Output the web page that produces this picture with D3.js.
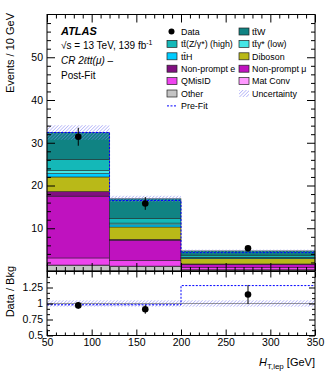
<!DOCTYPE html>
<html>
<head>
<meta charset="utf-8">
<script src="https://cdnjs.cloudflare.com/ajax/libs/d3/7.8.5/d3.min.js"></script>
<style>
body { margin: 0; background: #fff; }
svg { font-family: "Liberation Sans", Arial, sans-serif; }
.axis text { font-size: 10.5px; fill: #000; }
.axis path { display: none; }
.axis line { stroke: #000; stroke-width: 1; }
.leg text { font-size: 8.9px; }
</style>
</head>
<body>
<svg id="chart" width="332" height="375"></svg>
<script>
// bin edges of H_T,lep
var edges = [50, 120, 200, 350];

// post-fit yields per bin, bottom of the stack first
var other     = [1.3, 1.1, 0.25];
var matConv   = [0.1, 0.05, 0.05];
var qMisID    = [1.65, 1.35, 0.5];
var npMu      = [14.45, 4.7, 0.7];
var npE       = [1.1, 0.2, 0.15];
var diboson   = [3.4, 2.9, 1.25];
var ttH       = [0.8, 0.5, 0.15];
var ttGamLow  = [0.7, 0.4, 0.1];
var ttZHigh   = [2.6, 1.1, 0.55];
var ttW       = [6.3, 4.6, 1.0];

var bkgUnc    = [1.7, 0.7, 0.3];
var preFit    = [32.4, 16.5, 4.3];

var dataVal   = [31.4, 15.8, 5.3];
var dataErr   = [2.1, 1.5, 0.4];

var ratioVal  = [0.97, 0.91, 1.14];
var ratioErr  = [0.05, 0.07, 0.15];
var ratioUnc  = [0.05, 0.05, 0.05];
var ratioPre  = [0.98, 0.98, 1.28];

var keys = ["Other", "Mat Conv", "QMisID", "Non-prompt \u03bc", "Non-prompt e", "Diboson",
            "tt\u0304H", "tt\u0304\u03b3* (low)", "tt\u0304(Z/\u03b3*) (high)", "tt\u0304W"];
var series = [other, matConv, qMisID, npMu, npE, diboson, ttH, ttGamLow, ttZHigh, ttW];

var colors = {
    "Other": "#c4c4c4",
    "Mat Conv": "#ff99ff",
    "QMisID": "#ee44ee",
    "Non-prompt \u03bc": "#bf12bf",
    "Non-prompt e": "#801080",
    "Diboson": "#b9b918",
    "tt\u0304H": "#00ccff",
    "tt\u0304\u03b3* (low)": "#44e6e6",
    "tt\u0304(Z/\u03b3*) (high)": "#14b8b8",
    "tt\u0304W": "#108383"
};

var rows = edges.slice(0, -1).map(function(e, i) {
    var r = {bin: i};
    keys.forEach(function(k, j) { r[k] = series[j][i]; });
    return r;
});
var stacked = d3.stack().keys(keys)(rows);
var totals = rows.map(function(r) { return d3.sum(keys, k => r[k]); });

var svg = d3.select("#chart");
var defs = svg.append("defs");
defs.append("pattern")
    .attr("id", "hatch")
    .attr("width", 2.4).attr("height", 2.4)
    .attr("patternUnits", "userSpaceOnUse")
    .attr("patternTransform", "rotate(45)")
  .append("line")
    .attr("x1", 0).attr("y1", 0).attr("x2", 0).attr("y2", 2.4)
    .attr("stroke", "#8080f2").attr("stroke-width", 0.9);

var x = d3.scaleLinear().domain([50, 350]).range([47, 315]);
var y = d3.scaleLinear().domain([0, 60]).range([271, 14.5]);
var yr = d3.scaleLinear().domain([0.5, 1.5]).range([335.5, 271.5]);

// stacked histogram
var g = svg.append("g");
g.selectAll(".layer")
    .data(stacked)
    .enter().append("g")
    .attr("class", "layer")
    .attr("fill", d => colors[d.key])
    .selectAll("rect")
    .data(d => d)
    .enter().append("rect")
    .attr("x", (d, i) => x(edges[i]))
    .attr("width", (d, i) => x(edges[i + 1]) - x(edges[i]))
    .attr("y", d => y(d[1]))
    .attr("height", d => y(d[0]) - y(d[1]))
    .attr("stroke", "#111")
    .attr("stroke-opacity", 0.75)
    .attr("stroke-width", 0.6);

// uncertainty band
g.selectAll(".unc")
    .data(totals)
    .enter().append("rect")
    .attr("class", "unc")
    .attr("x", (d, i) => x(edges[i]))
    .attr("width", (d, i) => x(edges[i + 1]) - x(edges[i]))
    .attr("y", (d, i) => y(d + bkgUnc[i]))
    .attr("height", (d, i) => y(d - bkgUnc[i]) - y(d + bkgUnc[i]))
    .attr("fill", "url(#hatch)");

function stepPoints(vals) {
    var pts = vals.map((v, i) => [edges[i], v]);
    pts.push([edges[edges.length - 1], vals[vals.length - 1]]);
    return pts;
}

g.append("path")
    .datum(stepPoints(preFit))
    .attr("fill", "none")
    .attr("stroke", "#0000ff")
    .attr("stroke-width", 1)
    .attr("stroke-dasharray", "2,1.5")
    .attr("d", d3.line().curve(d3.curveStepAfter).x(d => x(d[0])).y(d => y(d[1])));

var mids = edges.slice(0, -1).map((e, i) => (e + edges[i + 1]) / 2);

g.selectAll(".derr")
    .data(dataVal)
    .enter().append("line")
    .attr("x1", (d, i) => x(mids[i])).attr("x2", (d, i) => x(mids[i]))
    .attr("y1", (d, i) => y(d - dataErr[i])).attr("y2", (d, i) => y(d + dataErr[i]))
    .attr("stroke", "#000").attr("stroke-width", 1);
g.selectAll(".dot")
    .data(dataVal)
    .enter().append("circle")
    .attr("cx", (d, i) => x(mids[i]))
    .attr("cy", d => y(d))
    .attr("r", 3.3)
    .attr("fill", "#000");

// ratio panel
var rg = svg.append("g");
rg.selectAll(".runc")
    .data(ratioUnc)
    .enter().append("rect")
    .attr("x", (d, i) => x(edges[i]))
    .attr("width", (d, i) => x(edges[i + 1]) - x(edges[i]))
    .attr("y", d => yr(1 + d))
    .attr("height", d => yr(1 - d) - yr(1 + d))
    .attr("fill", "url(#hatch)");
rg.append("line")
    .attr("x1", x(50)).attr("x2", x(350))
    .attr("y1", yr(1)).attr("y2", yr(1))
    .attr("stroke", "#555").attr("stroke-width", 0.6);
rg.append("path")
    .datum(stepPoints(ratioPre))
    .attr("fill", "none")
    .attr("stroke", "#0000ff")
    .attr("stroke-width", 1)
    .attr("stroke-dasharray", "2,1.5")
    .attr("d", d3.line().curve(d3.curveStepAfter).x(d => x(d[0])).y(d => yr(d[1])));
rg.selectAll(".rerr")
    .data(ratioVal)
    .enter().append("line")
    .attr("x1", (d, i) => x(mids[i])).attr("x2", (d, i) => x(mids[i]))
    .attr("y1", (d, i) => yr(d - ratioErr[i])).attr("y2", (d, i) => yr(d + ratioErr[i]))
    .attr("stroke", "#000").attr("stroke-width", 1);
rg.selectAll(".rdot")
    .data(ratioVal)
    .enter().append("circle")
    .attr("cx", (d, i) => x(mids[i]))
    .attr("cy", d => yr(d))
    .attr("r", 3.3)
    .attr("fill", "#000");

// axes, ticks pointing inwards on every side
var xMajor = d3.range(50, 351, 50);
var xMinor = d3.range(50, 351, 10).filter(v => v % 50);
var yMajor = [10, 20, 30, 40, 50];
var yMinor = d3.range(0, 61, 2).filter(v => v % 10);
var rMajor = [0.5, 0.75, 1, 1.25];
var rMinor = d3.range(0, 13).map(k => 0.5 + k / 12).filter((v, k) => k % 3);

function addAxis(axis, tx, ty) {
    svg.append("g").attr("class", "axis")
        .attr("transform", "translate(" + tx + "," + ty + ")")
        .call(axis);
}
var fmtR = d => (d === 1 ? "1" : d3.format("")(d));

// main panel
addAxis(d3.axisBottom(x).tickValues(xMajor).tickSize(-8).tickFormat(""), 0, y(0));
addAxis(d3.axisBottom(x).tickValues(xMinor).tickSize(-4).tickFormat(""), 0, y(0));
addAxis(d3.axisTop(x).tickValues(xMajor).tickSize(-8).tickFormat(""), 0, y(60));
addAxis(d3.axisTop(x).tickValues(xMinor).tickSize(-4).tickFormat(""), 0, y(60));
addAxis(d3.axisLeft(y).tickValues(yMajor).tickSize(-8).tickPadding(4), x(50), 0);
addAxis(d3.axisLeft(y).tickValues(yMinor).tickSize(-4).tickFormat(""), x(50), 0);
addAxis(d3.axisRight(y).tickValues(yMajor).tickSize(-8).tickFormat(""), x(350), 0);
addAxis(d3.axisRight(y).tickValues(yMinor).tickSize(-4).tickFormat(""), x(350), 0);

// ratio panel
addAxis(d3.axisBottom(x).tickValues(xMajor).tickSize(-6).tickPadding(3), 0, yr(0.5));
addAxis(d3.axisBottom(x).tickValues(xMinor).tickSize(-3).tickFormat(""), 0, yr(0.5));
addAxis(d3.axisTop(x).tickValues(xMajor).tickSize(-6).tickFormat(""), 0, yr(1.5));
addAxis(d3.axisTop(x).tickValues(xMinor).tickSize(-3).tickFormat(""), 0, yr(1.5));
addAxis(d3.axisLeft(yr).tickValues(rMajor).tickSize(-6).tickPadding(4).tickFormat(fmtR), x(50), 0);
addAxis(d3.axisLeft(yr).tickValues(rMinor).tickSize(-3).tickFormat(""), x(50), 0);
addAxis(d3.axisRight(yr).tickValues(rMajor).tickSize(-6).tickFormat(""), x(350), 0);
addAxis(d3.axisRight(yr).tickValues(rMinor).tickSize(-3).tickFormat(""), x(350), 0);

// frames
svg.append("rect")
    .attr("x", x(50)).attr("y", y(60))
    .attr("width", x(350) - x(50)).attr("height", y(0) - y(60))
    .attr("fill", "none").attr("stroke", "#000").attr("stroke-width", 1);
svg.append("rect")
    .attr("x", x(50)).attr("y", yr(1.5))
    .attr("width", x(350) - x(50)).attr("height", yr(0.5) - yr(1.5))
    .attr("fill", "none").attr("stroke", "#000").attr("stroke-width", 1);

// axis titles
svg.append("text")
    .attr("transform", "translate(13.5,13) rotate(-90)")
    .attr("text-anchor", "end")
    .style("font-size", "11px")
    .text("Events / 10 GeV");
svg.append("text")
    .attr("transform", "translate(13.5,266) rotate(-90)")
    .attr("text-anchor", "end")
    .style("font-size", "11px")
    .text("Data / Bkg");
var xt = svg.append("text")
    .attr("x", 315).attr("y", 366)
    .attr("text-anchor", "end")
    .style("font-size", "11px");
xt.append("tspan").style("font-style", "italic").text("H");
xt.append("tspan").attr("dy", 3).style("font-size", "8px").text("T,lep");
xt.append("tspan").attr("dy", -3).text(" [GeV]");

// ATLAS label
svg.append("text")
    .attr("x", 61).attr("y", 35)
    .style("font-size", "11px").style("font-weight", "bold").style("font-style", "italic")
    .text("ATLAS");
var lumi = svg.append("text")
    .attr("x", 61).attr("y", 49)
    .style("font-size", "10px");
lumi.append("tspan").text("\u221as = 13 TeV, 139 fb");
lumi.append("tspan").attr("dy", -4).style("font-size", "7px").text("-1");
svg.append("text")
    .attr("x", 61).attr("y", 64)
    .style("font-size", "10px").style("font-style", "italic")
    .text("CR 2\u2113tt(\u03bc) \u2013");
svg.append("text")
    .attr("x", 61).attr("y", 79)
    .style("font-size", "10px")
    .text("Post-Fit");

// legend
var legend = [
    {name: "Data", type: "data", col: 0, row: 0},
    {name: "tt\u0304(Z/\u03b3*) (high)", type: "fill", col: 0, row: 1},
    {name: "tt\u0304H", type: "fill", col: 0, row: 2},
    {name: "Non-prompt e", type: "fill", col: 0, row: 3},
    {name: "QMisID", type: "fill", col: 0, row: 4},
    {name: "Other", type: "fill", col: 0, row: 5},
    {name: "Pre-Fit", type: "line", col: 0, row: 6},
    {name: "tt\u0304W", type: "fill", col: 1, row: 0},
    {name: "tt\u0304\u03b3* (low)", type: "fill", col: 1, row: 1},
    {name: "Diboson", type: "fill", col: 1, row: 2},
    {name: "Non-prompt \u03bc", type: "fill", col: 1, row: 3},
    {name: "Mat Conv", type: "fill", col: 1, row: 4},
    {name: "Uncertainty", type: "unc", col: 1, row: 5}
];
var colX = [167, 239];
var leg = svg.append("g").attr("class", "leg")
    .selectAll("g")
    .data(legend)
    .enter().append("g")
    .attr("transform", d => "translate(" + colX[d.col] + "," + (31.5 + d.row * 12.4) + ")");
leg.filter(d => d.type === "fill").append("rect")
    .attr("x", 0).attr("y", -3.5).attr("width", 10).attr("height", 7)
    .attr("fill", d => colors[d.name])
    .attr("stroke", "#222").attr("stroke-width", 0.7);
leg.filter(d => d.type === "unc").append("rect")
    .attr("x", 0).attr("y", -3.5).attr("width", 10).attr("height", 7)
    .attr("fill", "url(#hatch)");
leg.filter(d => d.type === "data").append("circle")
    .attr("cx", 4.5).attr("cy", 0).attr("r", 3).attr("fill", "#000");
leg.filter(d => d.type === "line").append("line")
    .attr("x1", 0).attr("x2", 10).attr("y1", 0).attr("y2", 0)
    .attr("stroke", "#0000ff").attr("stroke-width", 1).attr("stroke-dasharray", "2,1.5");
leg.append("text")
    .attr("x", d => d.col === 0 ? 14 : 13)
    .attr("y", 3.2)
    .text(d => d.name);
</script>
</body>
</html>
